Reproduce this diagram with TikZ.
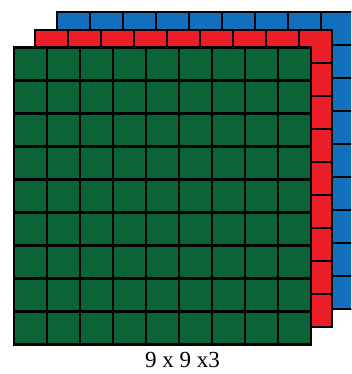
\documentclass[tikz,border=0pt]{standalone}
\usepackage{fontspec}
\setmainfont{Liberation Serif}
\definecolor{gblue}{RGB}{18,112,190}
\definecolor{gred}{RGB}{236,30,40}
\definecolor{ggreen}{RGB}{10,100,54}
\tikzset{
  layer/.style={draw=black, line width=2.6pt, line join=miter},
}
\newcommand{\mygrid}[3]{% x0, y0, colour
  \fill[#3] (#1,#2) rectangle ++(297,297);
  \foreach \i in {0,...,9}{
    \draw[layer] (#1+\i*33,#2) -- (#1+\i*33,#2+297);
    \draw[layer] (#1,#2+\i*33) -- (#1+297,#2+\i*33);
  }
  \draw[layer] (#1,#2) rectangle ++(297,297);
}
\begin{document}
\begin{tikzpicture}[x=1pt,y=-1pt]
\useasboundingbox (0,0) rectangle (351,374);
\begin{scope}
\clip (0,0) rectangle (351,374);
\mygrid{57}{12}{gblue}
\mygrid{35}{30}{gred}
\mygrid{14}{47.5}{ggreen}
\end{scope}
\node[font=\fontsize{23}{26}\selectfont, inner sep=0pt] (label) at (182.5,360) {9 x 9 x3};
\end{tikzpicture}
\end{document}
